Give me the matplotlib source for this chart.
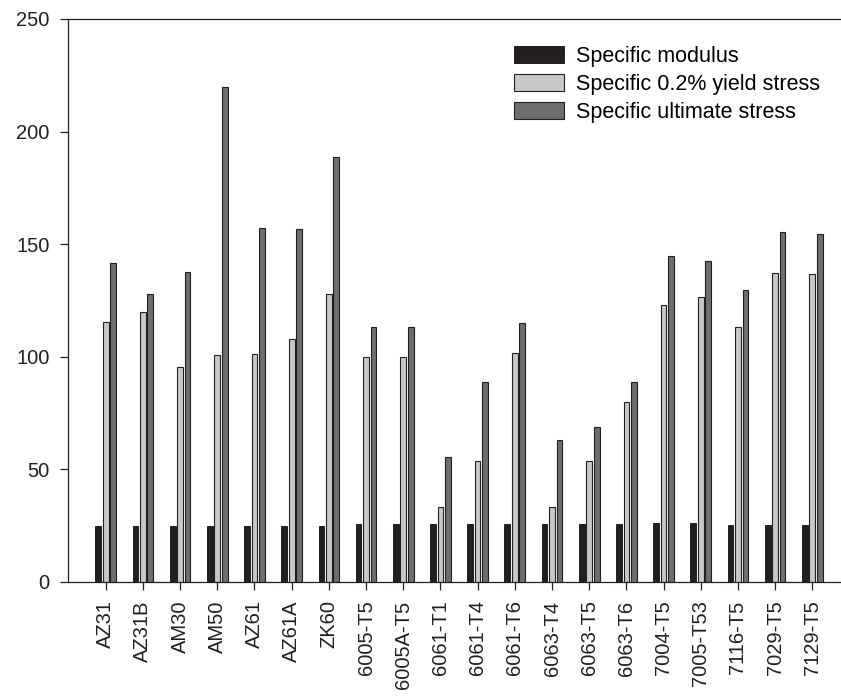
import numpy as np
import matplotlib
matplotlib.use('Agg')
import matplotlib.pyplot as plt

plt.rcParams['font.family'] = ['Liberation Sans', 'DejaVu Sans']

alloys = ['AZ31', 'AZ31B', 'AM30', 'AM50', 'AZ61', 'AZ61A', 'ZK60',
          '6005-T5', '6005A-T5', '6061-T1', '6061-T4', '6061-T6',
          '6063-T4', '6063-T5', '6063-T6', '7004-T5', '7005-T53',
          '7116-T5', '7029-T5', '7129-T5']
spec_modulus = [24.8, 24.8, 24.9, 24.8, 24.8, 24.7, 24.8,
                25.6, 25.6, 25.6, 25.6, 25.6,
                25.6, 25.6, 25.6, 26.1, 26.1,
                25.2, 25.2, 25.2]
spec_yield = [115.2, 119.7, 95.6, 100.6, 101.0, 107.9, 127.6,
              100.0, 100.0, 33.2, 53.6, 101.8,
              33.2, 53.6, 79.7, 122.8, 126.4,
              113.3, 137.2, 136.7]
spec_ultimate = [141.5, 127.7, 137.8, 220.0, 157.3, 156.7, 188.9,
                 113.0, 113.0, 55.4, 88.7, 115.0,
                 63.0, 68.6, 88.9, 144.6, 142.5,
                 129.5, 155.3, 154.7]

ink = '#231f20'
fig = plt.figure(figsize=(8.41, 6.96), dpi=100)
ax = fig.add_axes([68.3 / 841, 114.3 / 696, 772.7 / 841, 562.7 / 696])

x = np.arange(len(alloys))
w = 0.155
step = 0.2
ax.bar(x - step, spec_modulus, w, color=ink, edgecolor=ink, linewidth=0.7,
       label='Specific modulus')
ax.bar(x, spec_yield, w, color='#c8c8c8', edgecolor=ink, linewidth=0.8,
       label='Specific 0.2% yield stress')
ax.bar(x + step, spec_ultimate, w, color='#6e6e6e', edgecolor=ink, linewidth=0.8,
       label='Specific ultimate stress')

ax.set_xlim(-1.005, 19.77)
ax.set_ylim(0, 250)
ax.set_yticks([0, 50, 100, 150, 200, 250])
ax.set_xticks(x)
ax.set_xticklabels(alloys, rotation=90)

for side in ['left', 'bottom', 'top']:
    ax.spines[side].set_color(ink)
    ax.spines[side].set_linewidth(0.9)
ax.spines['right'].set_visible(False)
ax.tick_params(axis='both', direction='out', length=6, width=0.9, color=ink,
               labelsize=14.5, labelcolor=ink, pad=7.5)

ax.legend(loc='upper left', bbox_to_anchor=(514 / 841, 1 - 46 / 696),
          bbox_transform=fig.transFigure, frameon=False, fontsize=15.5,
          borderpad=0, borderaxespad=0, handlelength=2.33, handleheight=0.84,
          handletextpad=0.56, labelspacing=0.33)

fig.savefig('out.png', dpi=100)
